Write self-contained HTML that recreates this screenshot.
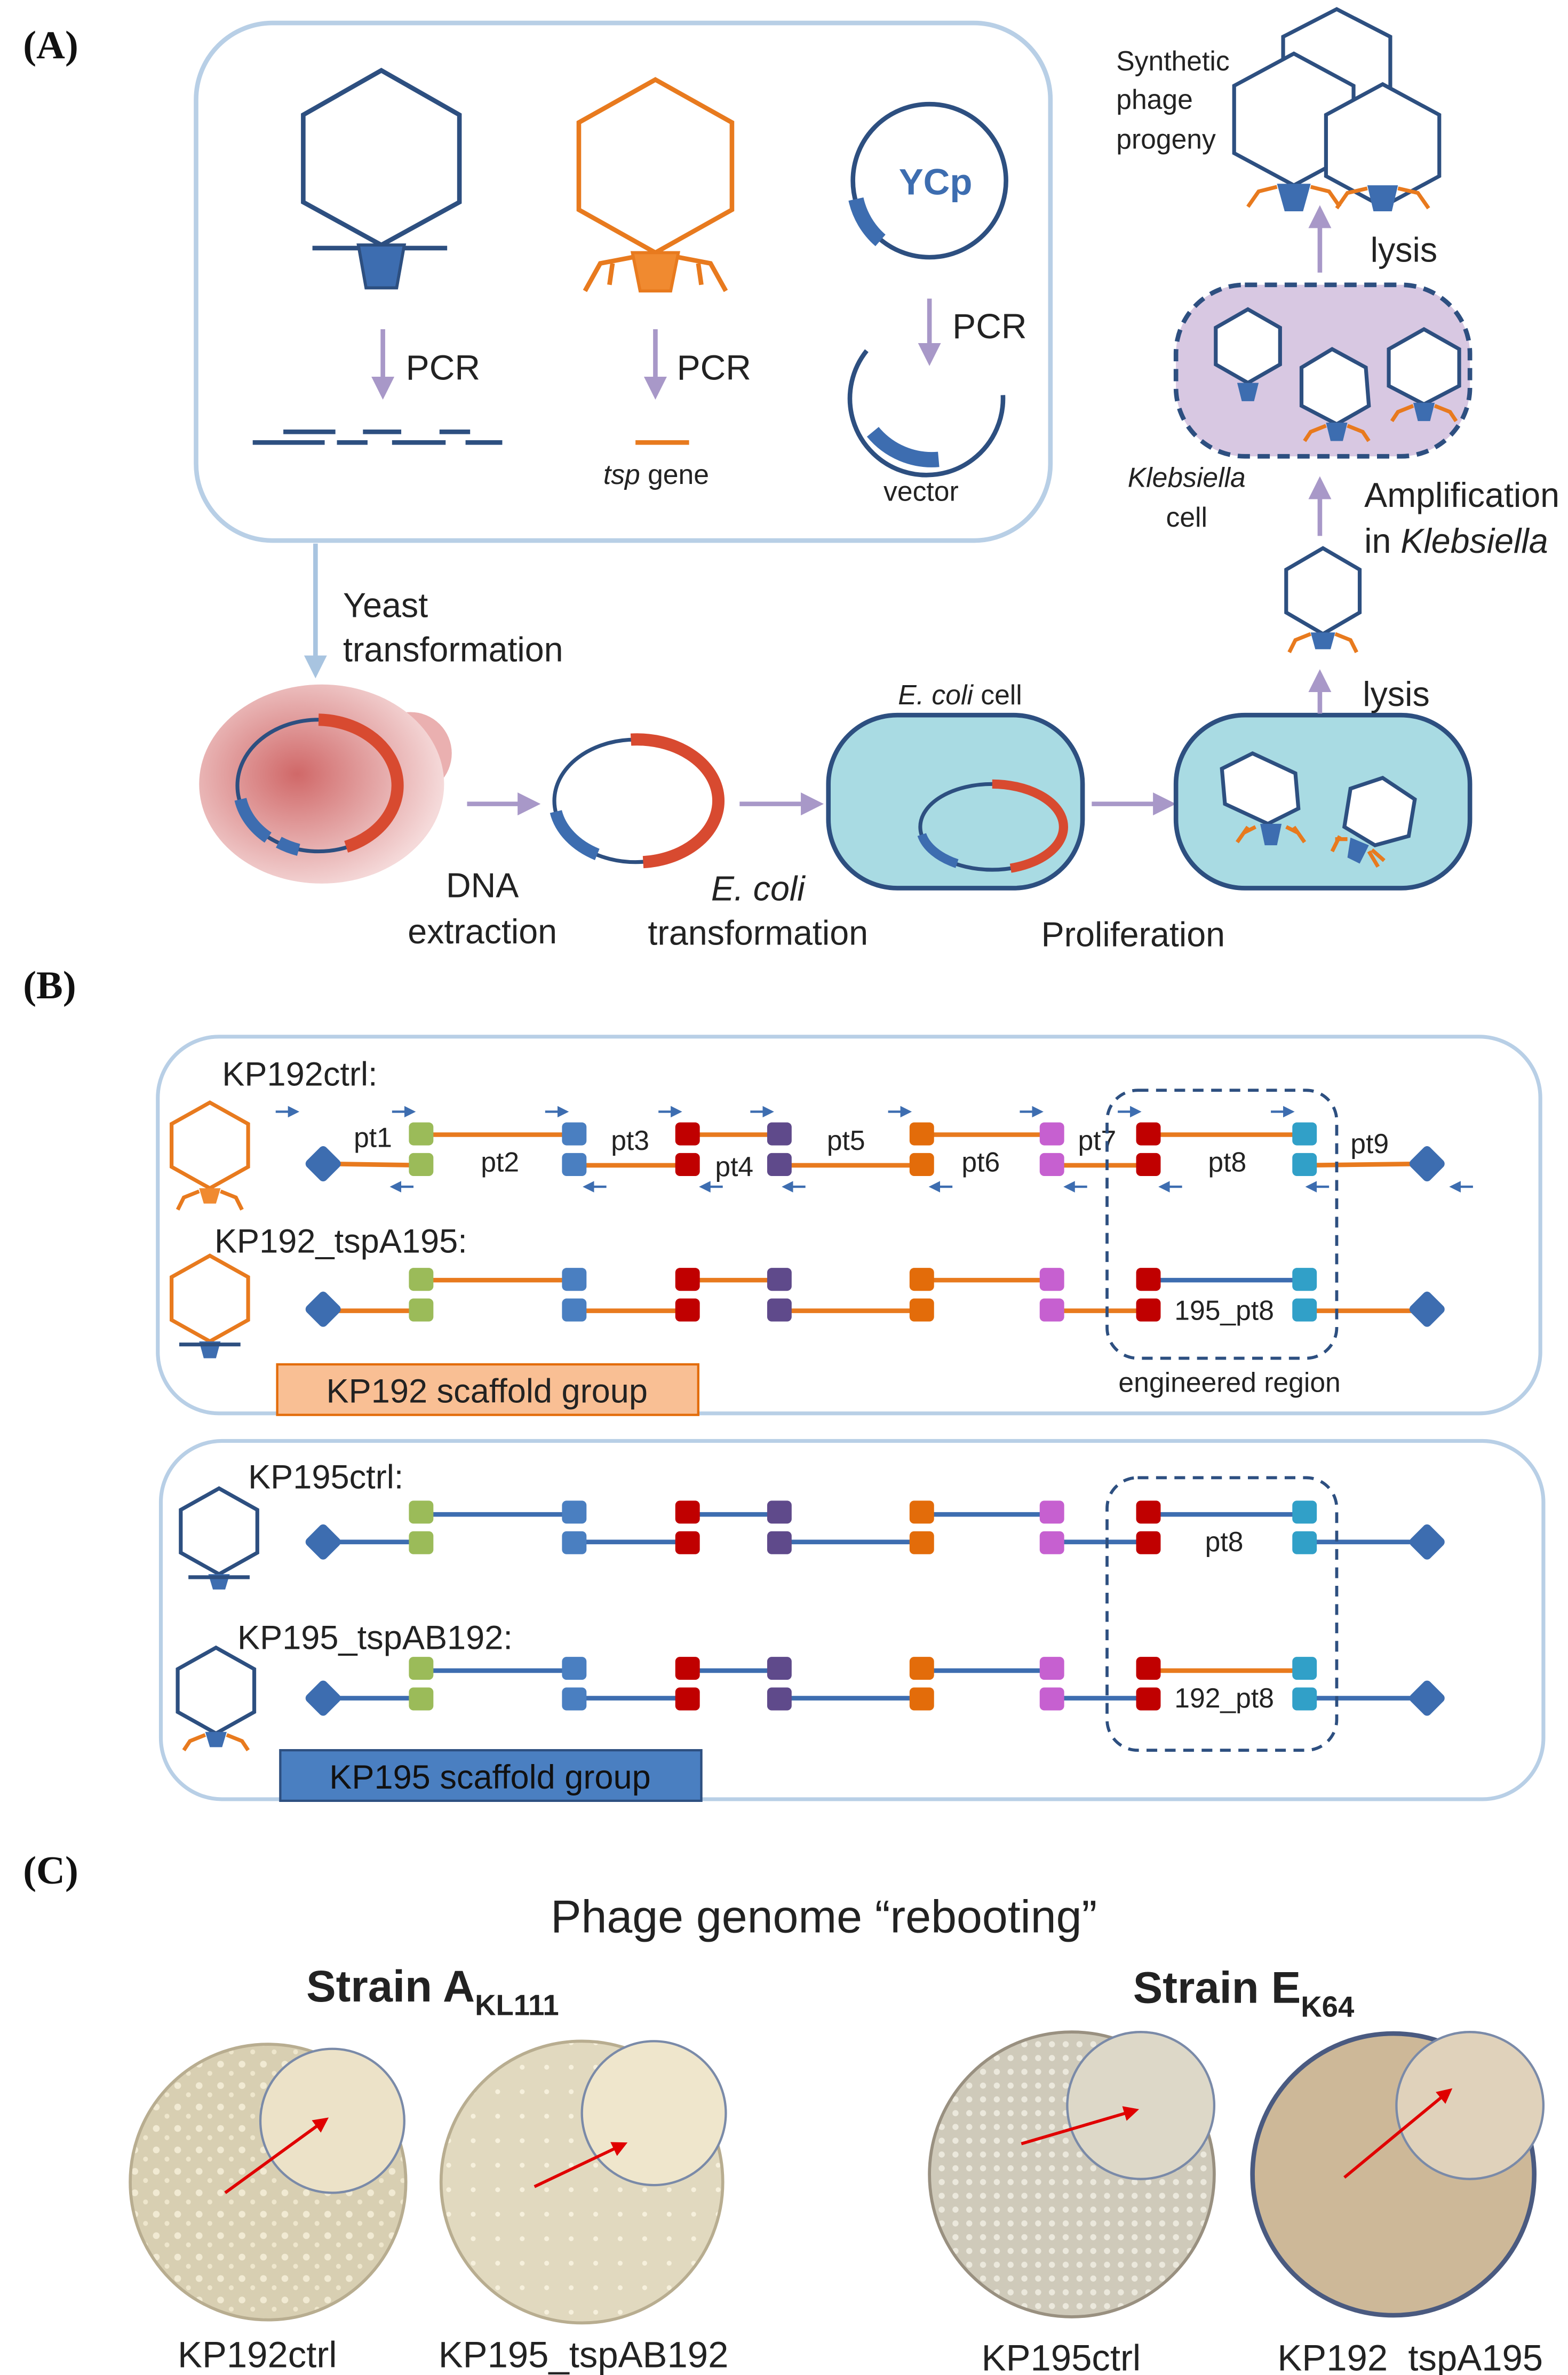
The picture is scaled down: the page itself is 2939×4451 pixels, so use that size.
<!DOCTYPE html>
<html><head><meta charset="utf-8">
<style>
html,body{margin:0;padding:0;background:#fff}
svg{display:block}
text{font-family:"Liberation Sans","DejaVu Sans",sans-serif;fill:#222}
.t{font-size:22.5px}
.lab{font-family:"Liberation Serif",serif;font-weight:bold;font-size:26px;fill:#111}
</style></head><body>
<svg width="2939" height="4451" viewBox="0 0 1024 1551" xmlns="http://www.w3.org/2000/svg">
<defs>
<marker id="ap" markerWidth="5" markerHeight="5" refX="4" refY="2.5" orient="auto" markerUnits="strokeWidth"><path d="M0,0 L5,2.5 L0,5 Z" fill="#a898c8"/></marker>
<marker id="ab" markerWidth="5" markerHeight="5" refX="4" refY="2.5" orient="auto" markerUnits="strokeWidth"><path d="M0,0 L5,2.5 L0,5 Z" fill="#a8c4e0"/></marker>
<marker id="sm" markerWidth="5" markerHeight="5" refX="4" refY="2.5" orient="auto" markerUnits="strokeWidth"><path d="M0,0 L5,2.5 L0,5 Z" fill="#3d6db0"/></marker>
<marker id="ar" markerWidth="5" markerHeight="5" refX="4" refY="2.5" orient="auto" markerUnits="strokeWidth"><path d="M0,0 L5,2.5 L0,5 Z" fill="#e00000"/></marker>
<radialGradient id="yg" cx="0.4" cy="0.45" r="0.6"><stop offset="0" stop-color="#d06868"/><stop offset="1" stop-color="#f5dada"/></radialGradient>
<pattern id="dots" width="14" height="14" patternUnits="userSpaceOnUse"><rect width="14" height="14" fill="#d8cfb2"/><circle cx="4" cy="4" r="2.2" fill="#f1ead3"/><circle cx="11" cy="10" r="1.6" fill="#eee6cc"/></pattern>
<pattern id="dots2" width="16" height="16" patternUnits="userSpaceOnUse"><rect width="16" height="16" fill="#e1d9bf"/><circle cx="5" cy="6" r="1.6" fill="#f6f0dc"/></pattern>
<pattern id="dots3" width="9" height="9" patternUnits="userSpaceOnUse"><rect width="9" height="9" fill="#cfcaba"/><circle cx="3" cy="3" r="2" fill="#ebe8dc"/></pattern>
</defs>

<!-- ===== Panel A ===== -->
<text x="15" y="38" class="lab">(A)</text>
<rect x="128" y="15" width="558" height="338" rx="50" fill="#fff" stroke="#b8cfe6" stroke-width="3"/>

<polygon points="249,46 300,75 300,132 249,160 198,132 198,75" fill="#fff" stroke="#2d4f80" stroke-width="3"/>
<line x1="204" y1="162" x2="292" y2="162" stroke="#2d4f80" stroke-width="3"/>
<polygon points="234,160 264,160 259,188 239,188" fill="#3d6db0" stroke="#2d4f80" stroke-width="2"/>
<polygon points="428,52 478,80 478,137 428,165 378,137 378,80" fill="#fff" stroke="#e87a1e" stroke-width="3"/>
<polygon points="413,165 443,165 438,190 418,190" fill="#f08a30" stroke="#e87a1e" stroke-width="2"/>
<path d="M413,168 L392,172 L382,190 M400,172 L398,186 M443,168 L464,172 L474,190 M456,172 L458,186" stroke="#e87a1e" stroke-width="3" fill="none"/>
<circle cx="607" cy="118" r="50" fill="none" stroke="#2d4f80" stroke-width="3"/>
<path d="M559,130 A50,50 0 0 0 575,157" stroke="#3d6db0" stroke-width="10" fill="none"/>
<text x="587" y="127" style="font-size:24px;font-weight:bold;fill:#3d6db0">YCp</text>
<line x1="250" y1="215" x2="250" y2="258" stroke="#a898c8" stroke-width="3" marker-end="url(#ap)"/>
<line x1="428" y1="215" x2="428" y2="258" stroke="#a898c8" stroke-width="3" marker-end="url(#ap)"/>
<line x1="607" y1="195" x2="607" y2="236" stroke="#a898c8" stroke-width="3" marker-end="url(#ap)"/>
<text x="265" y="248" class="t" style="font-size:23px">PCR</text>
<text x="442" y="248" class="t" style="font-size:23px">PCR</text>
<text x="622" y="221" class="t" style="font-size:23px">PCR</text>
<g stroke="#2d4f80" stroke-width="3">
<line x1="185" y1="282" x2="219" y2="282"/><line x1="237" y1="282" x2="262" y2="282"/><line x1="287" y1="282" x2="307" y2="282"/>
<line x1="165" y1="289" x2="212" y2="289"/><line x1="220" y1="289" x2="240" y2="289"/><line x1="256" y1="289" x2="291" y2="289"/><line x1="304" y1="289" x2="328" y2="289"/>
</g>
<line x1="415" y1="289" x2="450" y2="289" stroke="#e87a1e" stroke-width="3"/>
<text x="394" y="316" class="t" style="font-size:18px"><tspan font-style="italic">tsp</tspan> gene</text>
<path d="M566,229 A50,50 0 1 0 655,258" fill="none" stroke="#2d4f80" stroke-width="3"/>
<path d="M570,282 A50,50 0 0 0 613,300" stroke="#3d6db0" stroke-width="10" fill="none"/>
<text x="577" y="327" class="t" style="font-size:18px">vector</text>

<line x1="206" y1="355" x2="206" y2="440" stroke="#a8c4e0" stroke-width="3" marker-end="url(#ab)"/>
<text x="224" y="403" class="t">Yeast</text>
<text x="224" y="432" class="t">transformation</text>

<circle cx="268" cy="492" r="27" fill="#eab0b0"/>
<ellipse cx="210" cy="512" rx="80" ry="65" fill="url(#yg)"/>
<ellipse cx="208" cy="513" rx="53" ry="43" fill="none" stroke="#2d4f80" stroke-width="2.5"/>
<path d="M208,470 A53,43 0 0 1 226,553" stroke="#d84a30" stroke-width="8" fill="none"/>
<path d="M157,522 A53,43 0 0 0 175,547" stroke="#3d6db0" stroke-width="8" fill="none"/>
<path d="M182,550 A53,43 0 0 0 195,555" stroke="#3d6db0" stroke-width="8" fill="none"/>
<line x1="305" y1="525" x2="350" y2="525" stroke="#a898c8" stroke-width="3" marker-end="url(#ap)"/>
<ellipse cx="415" cy="523" rx="53" ry="40" fill="none" stroke="#2d4f80" stroke-width="2.5"/>
<path d="M412,483 A53,40 0 0 1 420,563" stroke="#d84a30" stroke-width="8" fill="none"/>
<path d="M363,530 A53,40 0 0 0 390,558" stroke="#3d6db0" stroke-width="8" fill="none"/>
<line x1="483" y1="525" x2="535" y2="525" stroke="#a898c8" stroke-width="3" marker-end="url(#ap)"/>
<text x="315" y="586" class="t" text-anchor="middle">DNA</text>
<text x="315" y="616" class="t" text-anchor="middle">extraction</text>
<text x="495" y="588" class="t" text-anchor="middle" font-style="italic">E. coli</text>
<text x="495" y="617" class="t" text-anchor="middle">transformation</text>
<text x="627" y="460" class="t" text-anchor="middle" style="font-size:18px"><tspan font-style="italic">E. coli</tspan> cell</text>
<rect x="541" y="467" width="166" height="113" rx="45" fill="#a9dbe3" stroke="#2d4f80" stroke-width="3"/>
<ellipse cx="648" cy="540" rx="47" ry="28" fill="none" stroke="#2d4f80" stroke-width="2.5"/>
<path d="M648,512 A47,28 0 0 1 660,567" stroke="#d84a30" stroke-width="6" fill="none"/>
<path d="M602,545 A47,28 0 0 0 625,564" stroke="#3d6db0" stroke-width="6" fill="none"/>
<line x1="713" y1="525" x2="765" y2="525" stroke="#a898c8" stroke-width="3" marker-end="url(#ap)"/>
<rect x="768" y="467" width="192" height="113" rx="45" fill="#a9dbe3" stroke="#2d4f80" stroke-width="3"/>
<polygon points="818,492 846,505 848,528 828,538 800,525 798,502" fill="#fff" stroke="#2d4f80" stroke-width="2.5"/>
<polygon points="823,538 837,538 834,552 826,552" fill="#3d6db0"/>
<path d="M815,540 L808,550 M845,540 L852,550 M820,540 L812,544 M840,540 L848,544" stroke="#e87a1e" stroke-width="2.5"/>
<polygon points="903,508 924,522 920,546 898,552 878,540 882,515" fill="#fff" stroke="#2d4f80" stroke-width="2.5"/>
<polygon points="882,547 894,552 888,564 880,560" fill="#3d6db0"/>
<path d="M875,546 L870,556 M896,555 L904,562 M880,548 L872,548 M894,556 L900,566" stroke="#e87a1e" stroke-width="2.5"/>
<text x="740" y="618" class="t" text-anchor="middle">Proliferation</text>
<line x1="862" y1="466" x2="862" y2="440" stroke="#a898c8" stroke-width="3" marker-end="url(#ap)"/>
<text x="890" y="461" class="t">lysis</text>
<polygon points="864,358 888,372 888,400 864,414 840,400 840,372" fill="#fff" stroke="#2d4f80" stroke-width="2.5"/>
<polygon points="856,413 872,413 869,424 859,424" fill="#3d6db0"/>
<path d="M856,414 L846,418 L842,426 M872,414 L882,418 L886,426" stroke="#e87a1e" stroke-width="2.5" fill="none"/>
<line x1="862" y1="350" x2="862" y2="314" stroke="#a898c8" stroke-width="3" marker-end="url(#ap)"/>
<text x="891" y="331" class="t">Amplification</text>
<text x="891" y="361" class="t">in <tspan font-style="italic">Klebsiella</tspan></text>
<rect x="768" y="186" width="192" height="112" rx="45" fill="#d8c8e2" stroke="#2d4f80" stroke-width="3" stroke-dasharray="8,5"/>
<polygon points="815,202 836,214 836,238 815,250 794,238 794,214" fill="#fff" stroke="#2d4f80" stroke-width="2.5"/>
<polygon points="808,250 822,250 819,262 811,262" fill="#3d6db0"/>
<polygon points="870,228 892,240 894,265 873,277 850,265 850,240" fill="#fff" stroke="#2d4f80" stroke-width="2.5"/>
<polygon points="866,276 880,276 877,288 869,288" fill="#3d6db0"/>
<path d="M866,278 L856,282 L852,288 M880,278 L890,282 L894,288" stroke="#e87a1e" stroke-width="2.5" fill="none"/>
<polygon points="930,215 953,228 953,252 930,264 907,252 907,228" fill="#fff" stroke="#2d4f80" stroke-width="2.5"/>
<polygon points="923,263 937,263 934,275 926,275" fill="#3d6db0"/>
<path d="M923,265 L913,269 L909,275 M937,265 L947,269 L951,275" stroke="#e87a1e" stroke-width="2.5" fill="none"/>
<text x="775" y="318" class="t" text-anchor="middle" style="font-size:18px" font-style="italic">Klebsiella</text>
<text x="775" y="344" class="t" text-anchor="middle" style="font-size:18px">cell</text>
<line x1="862" y1="178" x2="862" y2="137" stroke="#a898c8" stroke-width="3" marker-end="url(#ap)"/>
<text x="895" y="171" class="t">lysis</text>
<polygon points="873,6 908,24 908,62 873,80 838,62 838,24" fill="#fff" stroke="#2d4f80" stroke-width="2.5"/>
<polygon points="845,35 884,56 884,100 845,121 806,100 806,56" fill="#fff" stroke="#2d4f80" stroke-width="2.5"/>
<polygon points="834,120 856,120 851,138 839,138" fill="#3d6db0"/>
<path d="M834,122 L822,125 L815,135 M856,122 L868,125 L875,135" stroke="#e87a1e" stroke-width="2.5" fill="none"/>
<polygon points="903,55 940,75 940,115 903,135 866,115 866,75" fill="#fff" stroke="#2d4f80" stroke-width="2.5"/>
<polygon points="893,121 913,121 909,138 897,138" fill="#3d6db0"/>
<path d="M893,123 L880,126 L873,136 M913,123 L926,126 L933,136" stroke="#e87a1e" stroke-width="2.5" fill="none"/>
<text x="729" y="46" class="t" style="font-size:18px">Synthetic</text>
<text x="729" y="71" class="t" style="font-size:18px">phage</text>
<text x="729" y="97" class="t" style="font-size:18px">progeny</text>

<!-- ===== Panel B ===== -->
<text x="15" y="652" class="lab">(B)</text>
<rect x="103" y="677" width="903" height="246" rx="40" fill="#fff" stroke="#b8cfe6" stroke-width="2.5"/>
<rect x="105" y="941" width="903" height="234" rx="40" fill="#fff" stroke="#b8cfe6" stroke-width="2.5"/>

<g stroke-width="3" fill="none">
<g stroke="#e87a1e">
<line x1="211" y1="760" x2="275" y2="761"/><line x1="275" y1="741" x2="375" y2="741"/><line x1="375" y1="761" x2="449" y2="761"/><line x1="449" y1="741" x2="509" y2="741"/><line x1="509" y1="761" x2="602" y2="761"/><line x1="602" y1="741" x2="687" y2="741"/><line x1="687" y1="761" x2="750" y2="761"/><line x1="750" y1="741" x2="852" y2="741"/><line x1="852" y1="761" x2="932" y2="760"/>
</g>
<g stroke="#e87a1e">
<line x1="211" y1="856" x2="275" y2="856"/><line x1="275" y1="836" x2="375" y2="836"/><line x1="375" y1="856" x2="449" y2="856"/><line x1="449" y1="836" x2="509" y2="836"/><line x1="509" y1="856" x2="602" y2="856"/><line x1="602" y1="836" x2="687" y2="836"/><line x1="687" y1="856" x2="750" y2="856"/><line x1="852" y1="856" x2="932" y2="856"/>
</g>
<line x1="750" y1="836" x2="852" y2="836" stroke="#3d6db0"/>
<g stroke="#3d6db0">
<line x1="211" y1="1007" x2="275" y2="1007"/><line x1="275" y1="989" x2="375" y2="989"/><line x1="375" y1="1007" x2="449" y2="1007"/><line x1="449" y1="989" x2="509" y2="989"/><line x1="509" y1="1007" x2="602" y2="1007"/><line x1="602" y1="989" x2="687" y2="989"/><line x1="687" y1="1007" x2="750" y2="1007"/><line x1="750" y1="989" x2="852" y2="989"/><line x1="852" y1="1007" x2="932" y2="1007"/>
</g>
<g stroke="#3d6db0">
<line x1="211" y1="1109" x2="275" y2="1109"/><line x1="275" y1="1091" x2="375" y2="1091"/><line x1="375" y1="1109" x2="449" y2="1109"/><line x1="449" y1="1091" x2="509" y2="1091"/><line x1="509" y1="1109" x2="602" y2="1109"/><line x1="602" y1="1091" x2="687" y2="1091"/><line x1="687" y1="1109" x2="750" y2="1109"/><line x1="852" y1="1109" x2="932" y2="1109"/>
</g>
<line x1="750" y1="1091" x2="852" y2="1091" stroke="#e87a1e"/>
</g>

<g stroke="none">
<g id="sq1">
<rect x="267" y="733" width="16" height="15" rx="3" fill="#9bbb59"/><rect x="267" y="753" width="16" height="15" rx="3" fill="#9bbb59"/>
<rect x="367" y="733" width="16" height="15" rx="3" fill="#4a7fc1"/><rect x="367" y="753" width="16" height="15" rx="3" fill="#4a7fc1"/>
<rect x="441" y="733" width="16" height="15" rx="3" fill="#c00000"/><rect x="441" y="753" width="16" height="15" rx="3" fill="#c00000"/>
<rect x="501" y="733" width="16" height="15" rx="3" fill="#5f4a8b"/><rect x="501" y="753" width="16" height="15" rx="3" fill="#5f4a8b"/>
<rect x="594" y="733" width="16" height="15" rx="3" fill="#e36c0a"/><rect x="594" y="753" width="16" height="15" rx="3" fill="#e36c0a"/>
<rect x="679" y="733" width="16" height="15" rx="3" fill="#c660d0"/><rect x="679" y="753" width="16" height="15" rx="3" fill="#c660d0"/>
<rect x="742" y="733" width="16" height="15" rx="3" fill="#c00000"/><rect x="742" y="753" width="16" height="15" rx="3" fill="#c00000"/>
<rect x="844" y="733" width="16" height="15" rx="3" fill="#31a0c8"/><rect x="844" y="753" width="16" height="15" rx="3" fill="#31a0c8"/>
<rect x="202" y="751" width="18" height="18" rx="3" fill="#3d6db0" transform="rotate(45 211 760)"/>
<rect x="923" y="751" width="18" height="18" rx="3" fill="#3d6db0" transform="rotate(45 932 760)"/>
</g>
<use href="#sq1" transform="translate(0,95)"/>
<use href="#sq1" transform="translate(0,247)"/>
<use href="#sq1" transform="translate(0,349)"/>
</g>

<g stroke="#3d6db0" stroke-width="1.5">
<line x1="180" y1="726" x2="194" y2="726" marker-end="url(#sm)"/><line x1="256" y1="726" x2="270" y2="726" marker-end="url(#sm)"/><line x1="356" y1="726" x2="370" y2="726" marker-end="url(#sm)"/><line x1="430" y1="726" x2="444" y2="726" marker-end="url(#sm)"/><line x1="490" y1="726" x2="504" y2="726" marker-end="url(#sm)"/><line x1="580" y1="726" x2="594" y2="726" marker-end="url(#sm)"/><line x1="666" y1="726" x2="680" y2="726" marker-end="url(#sm)"/><line x1="730" y1="726" x2="744" y2="726" marker-end="url(#sm)"/><line x1="830" y1="726" x2="844" y2="726" marker-end="url(#sm)"/>
<line x1="270" y1="775" x2="256" y2="775" marker-end="url(#sm)"/><line x1="396" y1="775" x2="382" y2="775" marker-end="url(#sm)"/><line x1="472" y1="775" x2="458" y2="775" marker-end="url(#sm)"/><line x1="526" y1="775" x2="512" y2="775" marker-end="url(#sm)"/><line x1="622" y1="775" x2="608" y2="775" marker-end="url(#sm)"/><line x1="710" y1="775" x2="696" y2="775" marker-end="url(#sm)"/><line x1="772" y1="775" x2="758" y2="775" marker-end="url(#sm)"/><line x1="868" y1="775" x2="854" y2="775" marker-end="url(#sm)"/><line x1="962" y1="775" x2="948" y2="775" marker-end="url(#sm)"/>
</g>

<text x="231" y="749" class="t" style="font-size:18px">pt1</text>
<text x="314" y="765" class="t" style="font-size:18px">pt2</text>
<text x="399" y="751" class="t" style="font-size:18px">pt3</text>
<text x="467" y="768" class="t" style="font-size:18px">pt4</text>
<text x="540" y="751" class="t" style="font-size:18px">pt5</text>
<text x="628" y="765" class="t" style="font-size:18px">pt6</text>
<text x="704" y="751" class="t" style="font-size:18px">pt7</text>
<text x="789" y="765" class="t" style="font-size:18px">pt8</text>
<text x="882" y="753" class="t" style="font-size:18px">pt9</text>
<text x="767" y="862" class="t" style="font-size:18px">195_pt8</text>
<text x="787" y="1013" class="t" style="font-size:18px">pt8</text>
<text x="767" y="1115" class="t" style="font-size:18px">192_pt8</text>

<rect x="723" y="712" width="150" height="175" rx="20" fill="none" stroke="#2d4f80" stroke-width="2" stroke-dasharray="7,5"/>
<rect x="723" y="965" width="150" height="178" rx="20" fill="none" stroke="#2d4f80" stroke-width="2" stroke-dasharray="7,5"/>
<text x="803" y="909" class="t" text-anchor="middle" style="font-size:18px">engineered region</text>

<text x="145" y="709" class="t" style="font-size:22px">KP192ctrl:</text>
<text x="140" y="818" class="t" style="font-size:22px">KP192_tspA195:</text>
<text x="162" y="972" class="t" style="font-size:22px">KP195ctrl:</text>
<text x="155" y="1077" class="t" style="font-size:22px">KP195_tspAB192:</text>

<polygon points="137,720 162,734 162,762 137,776 112,762 112,734" fill="#fff" stroke="#e87a1e" stroke-width="2.5"/>
<polygon points="130,776 144,776 141,786 133,786" fill="#f08a30"/>
<path d="M130,778 L120,782 L116,790 M144,778 L154,782 L158,790" stroke="#e87a1e" stroke-width="2.5" fill="none"/>
<polygon points="137,820 162,834 162,862 137,876 112,862 112,834" fill="#fff" stroke="#e87a1e" stroke-width="2.5"/>
<polygon points="130,876 144,876 141,887 133,887" fill="#3d6db0"/>
<line x1="117" y1="878" x2="157" y2="878" stroke="#2d4f80" stroke-width="2.5"/>
<polygon points="143,972 168,986 168,1014 143,1028 118,1014 118,986" fill="#fff" stroke="#2d4f80" stroke-width="2.5"/>
<polygon points="136,1028 150,1028 147,1038 139,1038" fill="#3d6db0"/>
<line x1="123" y1="1030" x2="163" y2="1030" stroke="#2d4f80" stroke-width="2.5"/>
<polygon points="141,1076 166,1090 166,1118 141,1132 116,1118 116,1090" fill="#fff" stroke="#2d4f80" stroke-width="2.5"/>
<polygon points="134,1131 148,1131 145,1141 137,1141" fill="#3d6db0"/>
<path d="M134,1133 L124,1137 L120,1143 M148,1133 L158,1137 L162,1143" stroke="#e87a1e" stroke-width="2.5" fill="none"/>

<rect x="181" y="891" width="275" height="33" fill="#f9bf94" stroke="#e36c0a" stroke-width="1.5"/>
<text x="318" y="916" class="t" text-anchor="middle" style="font-size:22px">KP192 scaffold group</text>
<rect x="183" y="1143" width="275" height="33" fill="#4a7fc1" stroke="#2d4f80" stroke-width="1.5"/>
<text x="320" y="1168" class="t" text-anchor="middle" style="font-size:22px;fill:#111">KP195 scaffold group</text>

<!-- ===== Panel C ===== -->
<text x="15" y="1230" class="lab">(C)</text>
<text x="538" y="1262" text-anchor="middle" style="font-size:30px">Phage genome “rebooting”</text>
<text x="200" y="1307" style="font-size:29px;font-weight:bold">Strain A<tspan dy="9" style="font-size:19px">KL111</tspan></text>
<text x="740" y="1308" style="font-size:29px;font-weight:bold">Strain E<tspan dy="9" style="font-size:19px">K64</tspan></text>

<circle cx="175" cy="1425" r="90" fill="url(#dots)" stroke="#b8ad90" stroke-width="2"/>
<circle cx="217" cy="1385" r="47" fill="#ece2c8" stroke="#7a8aa8" stroke-width="1.5"/>
<line x1="147" y1="1432" x2="213" y2="1384" stroke="#e00000" stroke-width="2" marker-end="url(#ar)"/>

<circle cx="380" cy="1425" r="92" fill="url(#dots2)" stroke="#b8ad90" stroke-width="2"/>
<circle cx="427" cy="1380" r="47" fill="#efe6cc" stroke="#7a8aa8" stroke-width="1.5"/>
<line x1="349" y1="1428" x2="408" y2="1400" stroke="#e00000" stroke-width="2" marker-end="url(#ar)"/>

<circle cx="700" cy="1420" r="93" fill="url(#dots3)" stroke="#999080" stroke-width="2"/>
<circle cx="745" cy="1375" r="48" fill="#ddd8c8" stroke="#7a8aa8" stroke-width="1.5"/>
<line x1="667" y1="1400" x2="742" y2="1378" stroke="#e00000" stroke-width="2" marker-end="url(#ar)"/>

<circle cx="910" cy="1420" r="92" fill="#cdb898" stroke="#4a5a80" stroke-width="3"/>
<circle cx="960" cy="1375" r="48" fill="#e0d2bb" stroke="#7a8aa8" stroke-width="1.5"/>
<line x1="878" y1="1422" x2="947" y2="1365" stroke="#e00000" stroke-width="2" marker-end="url(#ar)"/>

<text x="168" y="1546" text-anchor="middle" style="font-size:24px">KP192ctrl</text>
<text x="381" y="1546" text-anchor="middle" style="font-size:24px">KP195_tspAB192</text>
<text x="693" y="1548" text-anchor="middle" style="font-size:24px">KP195ctrl</text>
<text x="921" y="1548" text-anchor="middle" style="font-size:24px">KP192_tspA195</text>
</svg>
</body></html>
